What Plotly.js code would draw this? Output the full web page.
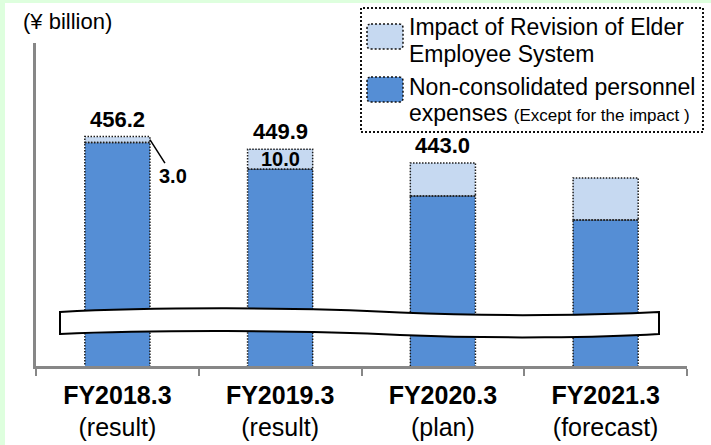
<!DOCTYPE html>
<html>
<head>
<meta charset="utf-8">
<script src="https://cdn.plot.ly/plotly-3.0.1.min.js"></script>
<style>
  html, body { margin: 0; padding: 0; width: 711px; height: 445px; overflow: hidden; background: rgb(222,255,222); }
  #chart { position: absolute; left: 5px; top: 3px; width: 706px; height: 442px; background: #fff; }
</style>
</head>
<body>
<div id="chart"></div>
<script>
// Personnel expenses by fiscal year (¥ billion)
const categories   = ['FY2018.3', 'FY2019.3', 'FY2020.3', 'FY2021.3'];
const periodNotes  = ['(result)', '(result)', '(plan)', '(forecast)'];
const personnel    = [453.2, 439.9, 426.5, 414.5];   // excluding the impact
const impact       = [3.0, 10.0, 16.5, 21.0];        // revision of elder employee system
const showTotal    = [true, true, true, false];
const impactLabel  = ['leader', 'inside', 'none', 'none'];
const seriesNames  = ['Impact of Revision of Elder Employee System',
                      'Non-consolidated personnel expenses (Except for the impact )'];

const DARK = '#558ed5', LIGHT = '#c6d9f1', EDGE = '#1b1b1b', AXIS = '#878787';
const FONT = 'Liberation Sans, Arial, sans-serif';
const BAR_W = 0.4;

// plot-area geometry (page pixels) for decorations placed in paper space
const PL = 36, PR = 687, PT = 43, PB = 366;
const px = x => (x - PL) / (PR - PL);
const py = y => (PB - y) / (PB - PT);
const P = (x, y) => px(x).toFixed(5) + ',' + py(y).toFixed(5);

function roundRect(x0, y0, x1, y1, r) {
  return `M${P(x0 + r, y0)} L${P(x1 - r, y0)} Q${P(x1, y0)} ${P(x1, y0 + r)} ` +
         `L${P(x1, y1 - r)} Q${P(x1, y1)} ${P(x1 - r, y1)} L${P(x0 + r, y1)} ` +
         `Q${P(x0, y1)} ${P(x0, y1 - r)} L${P(x0, y0 + r)} Q${P(x0, y0)} ${P(x0 + r, y0)} Z`;
}

const totals = personnel.map((v, i) => +(v + impact[i]).toFixed(1));
const idx = categories.map((_, i) => i);

const traces = [
  {
    type: 'bar', name: seriesNames[1], x: categories, y: personnel,
    width: BAR_W, marker: { color: DARK, line: { width: 0 } },
    hoverinfo: 'skip', showlegend: false
  },
  {
    type: 'bar', name: seriesNames[0], x: categories, y: impact,
    width: BAR_W, marker: { color: LIGHT, line: { width: 0 } },
    hoverinfo: 'skip', showlegend: false
  }
];

const shapes = [];
// dotted outlines on every stacked segment
idx.forEach(i => {
  const edges = [[0, personnel[i]], [personnel[i], totals[i]]];
  edges.forEach(([a, b]) => shapes.push({
    type: 'rect', xref: 'x', yref: 'y',
    x0: i - BAR_W / 2, x1: i + BAR_W / 2, y0: a, y1: b,
    line: { color: EDGE, width: 1.5, dash: '1.5px,1.5px' }
  }));
});

// axis break band
shapes.push({
  type: 'path', xref: 'paper', yref: 'paper', fillcolor: '#ffffff',
  line: { color: '#000', width: 2 },
  path: `M${P(60, 312)} C${P(150, 307)} ${P(300, 307)} ${P(400, 312.5)} ` +
        `C${P(500, 317)} ${P(600, 315)} ${P(659, 312)} L${P(659, 334)} ` +
        `C${P(600, 337.5)} ${P(500, 339)} ${P(400, 335)} ` +
        `C${P(300, 330)} ${P(150, 330)} ${P(60, 334)} Z`
});

// legend frame and swatches
shapes.push({
  type: 'rect', xref: 'paper', yref: 'paper',
  x0: px(361), x1: px(703), y0: py(132), y1: py(8),
  line: { color: '#111', width: 2, dash: '2px,2px' }
});
[[LIGHT, 24, 49], [DARK, 77, 102]].forEach(([c, t, b]) => shapes.push({
  type: 'path', xref: 'paper', yref: 'paper', fillcolor: c,
  line: { color: '#111', width: 1.5, dash: '2px,2px' },
  path: roundRect(367, t, 403, b, 4)
}));

const annotations = [];
// totals above the bars
idx.forEach(i => {
  if (!showTotal[i]) return;
  annotations.push({
    x: categories[i], y: totals[i], xref: 'x', yref: 'y',
    text: '<b>' + totals[i].toFixed(1) + '</b>', showarrow: false,
    xanchor: 'center', yanchor: 'bottom', yshift: 3,
    font: { family: FONT, size: 22, color: '#000' }
  });
});
// impact values
idx.forEach(i => {
  if (impactLabel[i] === 'inside') {
    annotations.push({
      x: categories[i], y: personnel[i] + impact[i] / 2, xref: 'x', yref: 'y',
      text: '<b>' + impact[i].toFixed(1) + '</b>', showarrow: false,
      xanchor: 'center', yanchor: 'middle',
      font: { family: FONT, size: 20, color: '#000' }
    });
  } else if (impactLabel[i] === 'leader') {
    annotations.push({
      x: i + BAR_W / 2, y: personnel[i] + impact[i] / 2, xref: 'x', yref: 'y',
      text: '<b>' + impact[i].toFixed(1) + '</b>', showarrow: true,
      arrowhead: 0, arrowwidth: 1.5, arrowcolor: '#000', ax: 23, ay: 36,
      font: { family: FONT, size: 20, color: '#000' }
    });
  }
});
// unit label
annotations.push({
  xref: 'paper', yref: 'paper', x: px(21), y: py(21), showarrow: false,
  xanchor: 'left', yanchor: 'middle',
  text: '(¥ billion)', font: { family: FONT, size: 22, color: '#000' }
});
// legend text
const legendLines = [
  ['Impact of Revision of Elder', 26.5],
  ['Employee System', 54.5],
  ['Non-consolidated personnel', 86.5],
  ['expenses <span style="font-size:17px">(Except for the impact )</span>', 113.5]
];
legendLines.forEach(([t, y]) => annotations.push({
  xref: 'paper', yref: 'paper', x: px(407), y: py(y), xanchor: 'left', yanchor: 'middle',
  showarrow: false, text: t, font: { family: FONT, size: 23, color: '#000' }
}));

const layout = {
  width: 706, height: 442,
  margin: { l: PL - 5, r: 711 - PR, t: PT - 3, b: 445 - PB, pad: 0 },
  paper_bgcolor: '#ffffff', plot_bgcolor: '#ffffff',
  barmode: 'stack', showlegend: false,
  font: { family: FONT, color: '#000' },
  xaxis: {
    type: 'category', range: [-0.5, categories.length - 0.5],
    tickvals: categories,
    ticktext: categories.map((c, i) => '<b>' + c + '</b><br>' + periodNotes[i]),
    tickfont: { family: FONT, size: 25, color: '#000' },
    ticklabelstandoff: 5,
    showline: true, linecolor: AXIS, linewidth: 2.5,
    ticks: 'outside', tickson: 'boundaries', ticklen: 7, tickwidth: 2, tickcolor: AXIS,
    showgrid: false, zeroline: false, fixedrange: true
  },
  yaxis: {
    range: [341.5, 503], showline: true, linecolor: AXIS, linewidth: 3,
    showticklabels: false, ticks: '', showgrid: false, zeroline: false, fixedrange: true
  },
  shapes: shapes,
  annotations: annotations
};

Plotly.newPlot('chart', traces, layout, { staticPlot: true, displayModeBar: false });
</script>
</body>
</html>
